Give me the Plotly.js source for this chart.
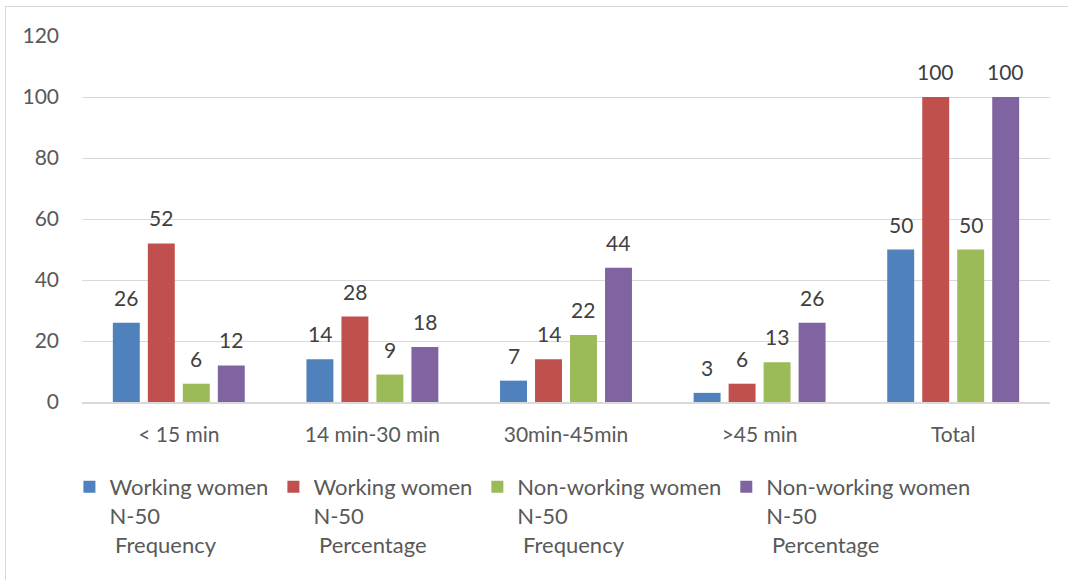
<!DOCTYPE html>
<html>
<head>
<meta charset="utf-8">
<script src="https://cdn.plot.ly/plotly-3.0.1.min.js"></script>
<style>
  html, body { margin: 0; padding: 0; background: #ffffff; overflow: hidden; }
  #frame { position: absolute; left: 5px; top: 6px; width: 1080px; height: 600px;
           border: 1.5px solid #d9d9d9; box-sizing: border-box; }
  #chart { position: absolute; left: 0; top: 0; width: 1068px; height: 580px; }
</style>
</head>
<body>
<div id="frame"></div>
<div id="chart"></div>
<script>
// Travel time categories
const categories = ['< 15 min', '14 min-30 min', '30min-45min', '>45 min', 'Total'];

// Series values
const workingFreq = [26, 14, 7, 3, 50];
const workingPct = [52, 28, 14, 6, 100];
const nonWorkingFreq = [6, 9, 22, 13, 50];
const nonWorkingPct = [12, 18, 44, 26, 100];

// Legend labels
const seriesNames = [
  'Working women<br>N-50<br> Frequency',
  'Working women<br>N-50<br> Percentage',
  'Non-working women<br>N-50<br> Frequency',
  'Non-working women<br>N-50<br> Percentage'
];

const yTicks = [0, 20, 40, 60, 80, 100, 120];

const colors = ['#4F81BD', '#C0504D', '#9BBB59', '#8064A2'];
const seriesValues = [workingFreq, workingPct, nonWorkingFreq, nonWorkingPct];

const font = 'Lato, "Open Sans", sans-serif';

const W = 1068, H = 580;
const margin = { l: 82, r: 18, t: 36, b: 178 };
const bargap = 0.277, bargroupgap = 0.23;

const traces = seriesValues.map((vals, i) => ({
  type: 'bar',
  name: seriesNames[i],
  x: categories,
  y: vals,
  marker: { color: colors[i] },
  hoverinfo: 'x+y'
}));

// Value labels above each bar, placed at the bar's own category/value
const catWidth = (W - margin.l - margin.r) / categories.length;
const pitch = catWidth * (1 - bargap) / seriesValues.length;
const annotations = [];
seriesValues.forEach((vals, i) => {
  vals.forEach((v, j) => {
    annotations.push({
      x: categories[j], y: v, xref: 'x', yref: 'y',
      text: String(v), showarrow: false,
      xanchor: 'center', yanchor: 'bottom',
      xshift: (i - (seriesValues.length - 1) / 2) * pitch,
      yshift: 11,
      font: { family: font, size: 21, color: '#404040' }
    });
  });
});

const layout = {
  width: W,
  height: H,
  margin: margin,
  paper_bgcolor: 'rgba(0,0,0,0)',
  plot_bgcolor: 'rgba(0,0,0,0)',
  barmode: 'group',
  bargap: bargap,
  bargroupgap: bargroupgap,
  font: { family: font, color: '#595959', size: 20 },
  annotations: annotations,
  xaxis: {
    type: 'category',
    showgrid: false,
    showline: true,
    linecolor: '#d9d9d9',
    linewidth: 1.5,
    ticks: '',
    ticklabelstandoff: 13,
    tickfont: { family: font, size: 21, color: '#595959' }
  },
  yaxis: {
    range: [0, 120],
    tickvals: yTicks,
    ticktext: yTicks.map(String),
    showgrid: true,
    gridcolor: '#d9d9d9',
    gridwidth: 1,
    zeroline: false,
    showline: false,
    ticks: '',
    ticklabelstandoff: 22,
    tickfont: { family: font, size: 21, color: '#595959' }
  },
  showlegend: true,
  legend: {
    orientation: 'h',
    x: -0.013,
    xanchor: 'left',
    y: -0.175,
    yanchor: 'top',
    valign: 'top',
    traceorder: 'normal',
    itemwidth: 30,
    font: { family: font, size: 22, color: '#595959' },
    bgcolor: 'rgba(0,0,0,0)'
  }
};

Plotly.newPlot('chart', traces, layout, { displayModeBar: false, staticPlot: true });
</script>
</body>
</html>
